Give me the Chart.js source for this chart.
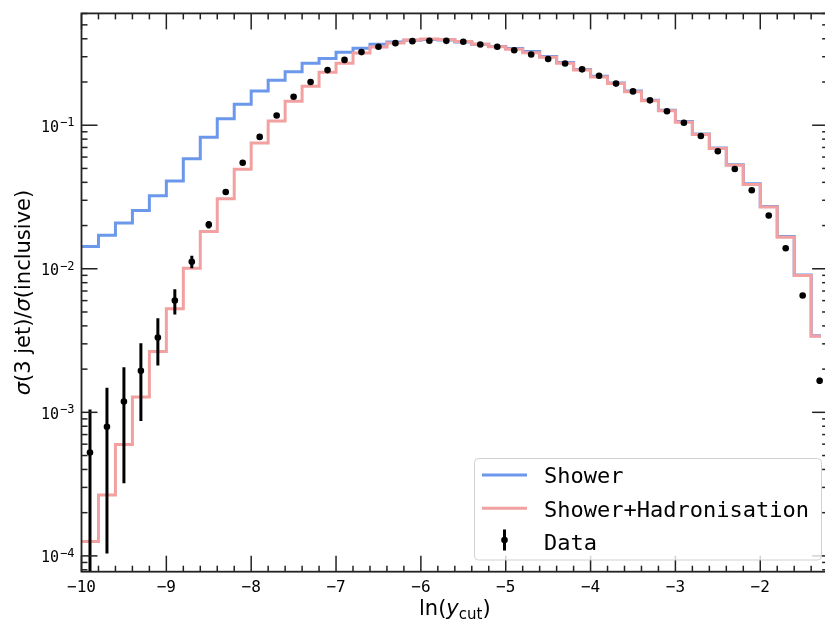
<!DOCTYPE html>
<html>
<head>
<meta charset="utf-8">
<script src="https://cdn.jsdelivr.net/npm/chart.js@4.4.0/dist/chart.umd.min.js"></script>
<style>
html,body{margin:0;padding:0;overflow:hidden;background:#fff;width:825px;height:622px}
canvas{display:block}
</style>
</head>
<body>
<canvas id="c" width="825" height="622"></canvas>
<script>
// ---------- DATA ----------
const binEdges = [-10.0,-9.8,-9.6,-9.4,-9.2,-9.0,-8.8,-8.6,-8.4,-8.2,-8.0,-7.8,-7.6,-7.4,-7.2,-7.0,-6.8,-6.6,-6.4,-6.2,-6.0,-5.8,-5.6,-5.4,-5.2,-5.0,-4.8,-4.6,-4.4,-4.2,-4.0,-3.8,-3.6,-3.4,-3.2,-3.0,-2.8,-2.6,-2.4,-2.2,-2.0,-1.8,-1.6,-1.4,-1.2];
const binCenters = [-9.9,-9.7,-9.5,-9.3,-9.1,-8.9,-8.7,-8.5,-8.3,-8.1,-7.9,-7.7,-7.5,-7.3,-7.1,-6.9,-6.7,-6.5,-6.3,-6.1,-5.9,-5.7,-5.5,-5.3,-5.1,-4.9,-4.7,-4.5,-4.3,-4.1,-3.9,-3.7,-3.5,-3.3,-3.1,-2.9,-2.7,-2.5,-2.3,-2.1,-1.9,-1.7,-1.5,-1.3];
const shower = [0.0143,0.0171,0.0208,0.0255,0.0323,0.0408,0.0585,0.0824,0.111,0.140,0.173,0.206,0.236,0.270,0.292,0.322,0.344,0.366,0.380,0.390,0.395,0.392,0.380,0.366,0.353,0.342,0.326,0.301,0.273,0.244,0.219,0.197,0.173,0.149,0.127,0.106,0.0870,0.0694,0.0531,0.0391,0.0272,0.0168,0.00906,0.00342];
const showerHad = [1.26e-4,2.66e-4,5.97e-4,1.28e-3,2.65e-3,5.26e-3,0.0101,0.0182,0.0308,0.0493,0.0753,0.107,0.147,0.187,0.234,0.270,0.318,0.350,0.374,0.392,0.398,0.395,0.383,0.367,0.352,0.338,0.320,0.298,0.270,0.242,0.217,0.195,0.171,0.148,0.126,0.105,0.0861,0.0687,0.0526,0.0387,0.0269,0.0166,0.00897,0.00339];
const dataVals = [5.25e-4,7.94e-4,1.19e-3,1.95e-3,3.32e-3,6.0e-3,0.0112,0.0203,0.0343,0.0548,0.0829,0.117,0.158,0.200,0.242,0.285,0.323,0.352,0.373,0.385,0.388,0.387,0.381,0.365,0.352,0.333,0.311,0.289,0.269,0.245,0.221,0.195,0.172,0.149,0.125,0.104,0.0842,0.0659,0.0496,0.0352,0.0235,0.0139,0.00651,0.00166];
const dataErr = [5.2e-4,6.9e-4,8.7e-4,1.08e-3,1.2e-3,1.2e-3,1.1e-3,1.2e-3,1.2e-3,1.3e-3,1.5e-3,1.8e-3,2.0e-3,2.2e-3,2.4e-3,2.6e-3,2.8e-3,3.0e-3,3.0e-3,3.1e-3,3.1e-3,3.1e-3,3.0e-3,3.0e-3,2.9e-3,2.8e-3,2.7e-3,2.6e-3,2.5e-3,2.4e-3,2.2e-3,2.1e-3,1.9e-3,1.8e-3,1.6e-3,1.4e-3,1.3e-3,1.1e-3,9e-4,7e-4,5e-4,3.5e-4,2e-4,8e-5];
const xTickValues = [-10,-9,-8,-7,-6,-5,-4,-3,-2];
const xTickLabels = ['\u221210','\u22129','\u22128','\u22127','\u22126','\u22125','\u22124','\u22123','\u22122'];
const yTickValues = [1e-4,1e-3,1e-2,1e-1];
const yTickExponents = ['\u22124','\u22123','\u22122','\u22121'];
const seriesLabels = ['Shower','Shower+Hadronisation','Data'];
const xAxisMin = -10, xAxisRightLimit = -1.2, xVisibleMax = -1.284;
const yAxisMin = 7.76e-5, yAxisMax = 0.601;

// ---------- BUILD ----------
function stepPoints(vals){
  const pts = vals.map((v,i)=>({x:binEdges[i], y:v}));
  pts.push({x:binEdges[binEdges.length-1], y:vals[vals.length-1]});
  return pts;
}
const BLUE = 'rgb(108,152,236)';
const RED = 'rgb(242,160,160)';
const MONO = '"DejaVu Sans Mono", monospace';
const SANS = '"DejaVu Sans", sans-serif';

const decor = {
  id:'decor',
  beforeDatasetDraw(chart, args){
    if(args.index !== 2) return;
    const {ctx, chartArea:a} = chart;
    const xs = chart.scales.x, ys = chart.scales.y;
    ctx.save();
    ctx.beginPath(); ctx.rect(a.left, a.top, a.right-a.left, a.bottom-a.top); ctx.clip();
    ctx.strokeStyle = '#000'; ctx.lineWidth = 3;
    for(let i=0;i<dataVals.length;i++){
      const x = xs.getPixelForValue(binCenters[i]);
      const hi = ys.getPixelForValue(dataVals[i]+dataErr[i]);
      const lowV = dataVals[i]-dataErr[i];
      const lo = lowV>0 ? ys.getPixelForValue(lowV) : a.bottom+20;
      ctx.beginPath(); ctx.moveTo(x, Math.min(lo, a.bottom+20)); ctx.lineTo(x, hi); ctx.stroke();
    }
    ctx.restore();
  },
  afterDraw(chart){
    const {ctx, chartArea:a} = chart;
    const xs = chart.scales.x, ys = chart.scales.y;
    const R = xs.getPixelForValue(xAxisRightLimit);
    ctx.save();
    ctx.strokeStyle = '#222';
    const MAJ = 16, MIN = 6;
    ctx.lineWidth = 1.5;
    function vt(x, len){
      ctx.beginPath(); ctx.moveTo(x, a.bottom); ctx.lineTo(x, a.bottom-len); ctx.stroke();
      ctx.beginPath(); ctx.moveTo(x, a.top); ctx.lineTo(x, a.top+len); ctx.stroke();
    }
    function ht(y, len){
      ctx.beginPath(); ctx.moveTo(a.left, y); ctx.lineTo(a.left+len, y); ctx.stroke();
      ctx.beginPath(); ctx.moveTo(R, y); ctx.lineTo(R-len, y); ctx.stroke();
    }
    xTickValues.forEach(v=>vt(xs.getPixelForValue(v), MAJ));
    for(let k=-49;k<=-6;k++){ if(k%5!==0) vt(xs.getPixelForValue(k*0.2), MIN); }
    yTickValues.forEach(v=>ht(ys.getPixelForValue(v), MAJ));
    for(let e=-5;e<=0;e++){ for(let m=2;m<=9;m++){ const v=m*Math.pow(10,e); if(v>ys.min && v<ys.max) ht(ys.getPixelForValue(v), MIN);} }
    ctx.lineWidth = 1.8; ctx.strokeStyle = '#222';
    ctx.strokeRect(a.left, a.top, R-a.left, a.bottom-a.top);
    ctx.fillStyle = '#000';
    ctx.font = '16px '+MONO; ctx.textAlign='center'; ctx.textBaseline='alphabetic';
    xTickValues.forEach((v,i)=>ctx.fillText(xTickLabels[i], xs.getPixelForValue(v), 591.5));
    yTickValues.forEach((v,i)=>{
      const y = ys.getPixelForValue(v);
      ctx.font = '15px '+MONO; const w1 = ctx.measureText('10').width;
      ctx.font = '12px '+MONO; const w2 = ctx.measureText(yTickExponents[i]).width;
      const right = 74.5;
      ctx.textAlign='left';
      ctx.font = '15px '+MONO; ctx.fillText('10', right-w2-w1-1, y+6.5);
      ctx.font = '12px '+MONO; ctx.fillText(yTickExponents[i], right-w2, y+1);
    });
    const parts = [['ln(', '21px '+SANS, 0],['y','italic 21px '+SANS,0],['cut','15px '+SANS,4],[')','21px '+SANS,0]];
    let tot=0; parts.forEach(p=>{ctx.font=p[1]; tot+=ctx.measureText(p[0]).width;});
    let cx = (a.left+R)/2 - tot/2;
    ctx.textAlign='left';
    parts.forEach(p=>{ctx.font=p[1]; ctx.fillText(p[0], cx, 615+p[2]); cx+=ctx.measureText(p[0]).width;});
    const yparts = [['\u03c3','italic 21px '+SANS],['(3 jet)/','21px '+SANS],['\u03c3','italic 21px '+SANS],['(inclusive)','21px '+SANS]];
    let ytot=0; yparts.forEach(p=>{ctx.font=p[1]; ytot+=ctx.measureText(p[0]).width;});
    ctx.save();
    ctx.translate(30, (a.top+a.bottom)/2); ctx.rotate(-Math.PI/2);
    let px = -ytot/2;
    yparts.forEach(p=>{ctx.font=p[1]; ctx.fillText(p[0], px, 0); px+=ctx.measureText(p[0]).width;});
    ctx.restore();
    ctx.beginPath(); ctx.roundRect(474.5, 458.5, 347, 101.5, 4);
    ctx.fillStyle='rgba(255,255,255,0.8)'; ctx.fill();
    ctx.strokeStyle='rgba(204,204,204,0.9)'; ctx.lineWidth=1; ctx.stroke();
    const rows=[475, 508.3, 541.6];
    const cols=[BLUE, RED];
    ctx.lineWidth=3;
    for(let i=0;i<2;i++){ ctx.strokeStyle=cols[i]; ctx.beginPath(); ctx.moveTo(482, rows[i]); ctx.lineTo(527, rows[i]); ctx.stroke(); }
    ctx.strokeStyle='#000'; ctx.beginPath(); ctx.moveTo(504.5, 529.5); ctx.lineTo(504.5, 550.5); ctx.stroke();
    ctx.fillStyle='#000'; ctx.beginPath(); ctx.arc(504.5, 540, 3.3, 0, Math.PI*2); ctx.fill();
    ctx.font='22px '+MONO; ctx.textAlign='left'; ctx.fillStyle='#000';
    seriesLabels.forEach((t,i)=>ctx.fillText(t, 544, rows[i]+8.3));
    ctx.restore();
  }
};

new Chart(document.getElementById('c'), {
  data:{
    datasets:[
      {type:'line', order:2, label:seriesLabels[0], data:stepPoints(shower), stepped:true, borderColor:BLUE, borderWidth:3, pointRadius:0, fill:false},
      {type:'line', order:1, label:seriesLabels[1], data:stepPoints(showerHad), stepped:true, borderColor:RED, borderWidth:3, pointRadius:0, fill:false},
      {type:'scatter', order:0, label:seriesLabels[2], data:binCenters.map((x,i)=>({x:x, y:dataVals[i]})), pointRadius:3.3, pointBackgroundColor:'#000', pointBorderWidth:0, borderColor:'#000', clip:false}
    ]
  },
  options:{
    responsive:false, animation:false, devicePixelRatio:1,
    layout:{padding:{left:81.5, right:0, top:13.4, bottom:50.3}},
    plugins:{legend:{display:false}, tooltip:{enabled:false}},
    scales:{
      x:{type:'linear', min:xAxisMin, max:xVisibleMax, display:false},
      y:{type:'logarithmic', min:yAxisMin, max:yAxisMax, display:false}
    }
  },
  plugins:[decor]
});
</script>
</body>
</html>
